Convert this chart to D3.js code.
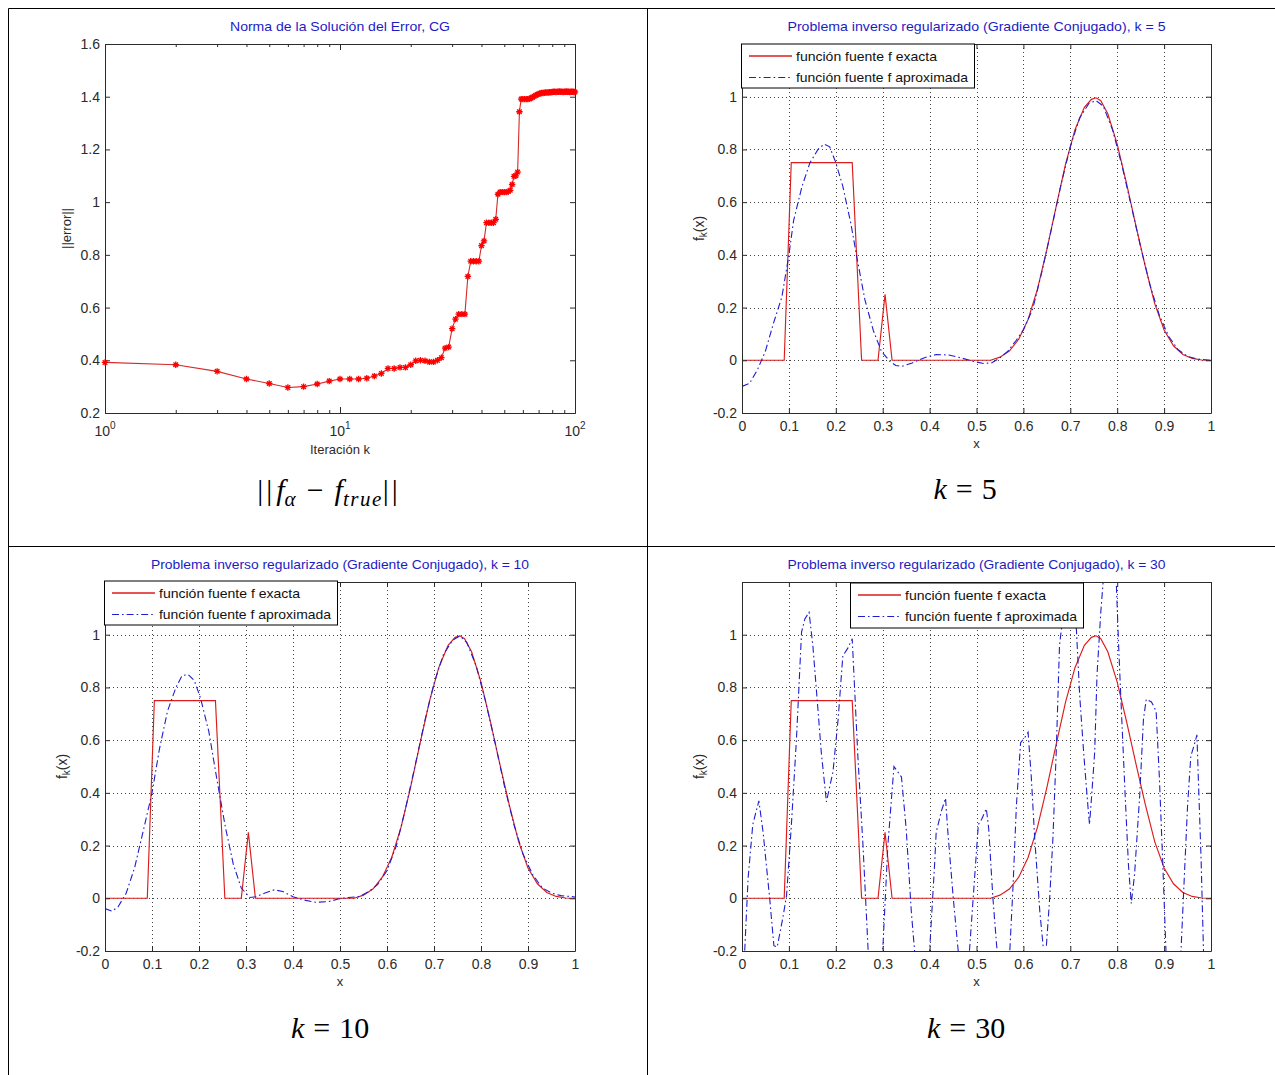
<!DOCTYPE html>
<html><head><meta charset="utf-8">
<script src="https://cdn.jsdelivr.net/npm/d3@7"></script>
<style>
body{margin:0;background:#fff;}
svg{display:block;}
</style></head><body>
<svg id="fig" width="1275" height="1075"></svg>
<script>
// ---------------- DATA ----------------
// Panel 1: error norm per CG iteration k = 1..100
const errorNorm = [
 0.392,0.383,0.358,0.329,0.312,0.297,0.300,0.310,0.321,0.329,
 0.329,0.329,0.332,0.340,0.350,0.369,0.369,0.373,0.373,0.383,
 0.398,0.400,0.398,0.394,0.394,0.400,0.410,0.446,0.450,0.520,
 0.556,0.575,0.575,0.575,0.718,0.776,0.776,0.776,0.776,0.835,
 0.853,0.922,0.922,0.922,0.922,0.935,1.030,1.038,1.038,1.038,
 1.038,1.040,1.045,1.067,1.098,1.100,1.114,1.343,1.391,1.391,
 1.391,1.391,1.391,1.392,1.395,1.398,1.402,1.405,1.408,1.410,
 1.413,1.414,1.414,1.415,1.416,1.416,1.416,1.417,1.417,1.418,
 1.419,1.419,1.418,1.419,1.419,1.420,1.419,1.419,1.418,1.419,
 1.419,1.420,1.419,1.419,1.418,1.419,1.419,1.419,1.418,1.418];
const errTicksY = [0.2,0.4,0.6,0.8,1,1.2,1.4,1.6];
const errTicksX = [1,10,100];
const errTickExp = ["0","1","2"];

// Function panels
const fTicksX = [0,0.1,0.2,0.3,0.4,0.5,0.6,0.7,0.8,0.9,1];
const fTicksY = [-0.2,0,0.2,0.4,0.6,0.8,1];

const exactX = [0,0.09,0.105,0.235,0.255,0.29,0.305,0.32,0.53,
 0.55,0.57,0.59,0.61,0.63,0.65,0.67,0.69,0.71,0.73,0.745,0.755,0.765,0.78,0.80,0.82,0.84,0.86,0.88,0.90,0.92,0.94,0.96,0.98,1.0];
const exactY = [0,0,0.75,0.75,0,0,0.25,0,0,
 0.012,0.035,0.08,0.155,0.27,0.42,0.585,0.745,0.875,0.96,0.99,0.996,0.985,0.935,0.82,0.67,0.51,0.355,0.215,0.115,0.055,0.022,0.007,0.001,0];

const approxK5X = [0,0.016,0.033,0.05,0.067,0.085,0.1,0.11,0.128,0.145,
 0.162,0.175,0.187,0.2,0.215,0.232,0.245,0.262,0.28,0.297,
 0.315,0.328,0.341,0.363,0.389,0.415,0.441,0.467,0.493,0.515,
 0.532,0.55,0.567,0.584,0.6,0.62,0.64,0.66,0.68,0.70,0.72,0.74,0.755,0.77,0.79,0.81,0.83,0.85,0.87,0.89,0.91,0.93,0.95,0.97,1.0];
const approxK5Y = [-0.099,-0.088,-0.036,0.035,0.14,0.24,0.4,0.53,0.66,0.75,
 0.80,0.82,0.81,0.75,0.66,0.52,0.39,0.23,0.113,0.035,
 -0.004,-0.02,-0.023,-0.01,0.01,0.022,0.02,0.009,-0.004,-0.012,
 -0.01,0.009,0.035,0.074,0.115,0.195,0.34,0.5,0.665,0.81,0.92,0.975,0.985,0.965,0.875,0.74,0.585,0.43,0.285,0.17,0.09,0.04,0.015,0.005,0.0];

const approxK10X = [0,0.015,0.028,0.045,0.063,0.08,0.1,0.116,0.133,0.151,
 0.164,0.177,0.19,0.203,0.221,0.238,0.256,0.273,0.29,0.308,
 0.321,0.339,0.36,0.378,0.4,0.422,0.448,0.475,0.496,0.518,
 0.54,0.562,0.58,0.6,0.62,0.64,0.66,0.68,0.70,0.72,
 0.74,0.755,0.77,0.79,0.81,0.83,0.85,0.87,0.89,0.91,0.93,0.95,0.97,1.0];
const approxK10Y = [-0.039,-0.049,-0.032,0.019,0.116,0.245,0.4,0.568,0.71,0.8,
 0.845,0.849,0.826,0.761,0.632,0.452,0.271,0.129,0.039,0.003,
 0.006,0.019,0.032,0.026,0.006,-0.006,-0.015,-0.013,-0.003,0.003,
 0.006,0.026,0.052,0.105,0.2,0.345,0.505,0.67,0.815,0.925,
 0.98,0.995,0.97,0.88,0.745,0.59,0.425,0.28,0.165,0.09,0.04,0.02,0.01,0.005];

const approxK30X = [0.0,0.013,0.023,0.036,0.045,0.059,0.068,0.075,0.087,0.095,
 0.105,0.116,0.127,0.134,0.143,0.151,0.16,0.169,0.18,0.194,
 0.205,0.215,0.226,0.235,0.24,0.247,0.258,0.269,0.284,0.3,
 0.311,0.324,0.34,0.35,0.361,0.368,0.384,0.4,0.411,0.414,
 0.425,0.434,0.439,0.45,0.461,0.473,0.485,0.5,0.504,0.511,
 0.521,0.526,0.535,0.543,0.557,0.571,0.578,0.585,0.594,0.603,
 0.61,0.617,0.624,0.635,0.642,0.649,0.656,0.663,0.67,0.677,
 0.682,0.697,0.713,0.72,0.729,0.738,0.741,0.746,0.752,0.757,
 0.765,0.77,0.784,0.798,0.803,0.809,0.817,0.824,0.83,0.837,
 0.848,0.856,0.862,0.873,0.883,0.89,0.897,0.904,0.92,0.936,
 0.943,0.95,0.957,0.964,0.97,0.973,0.979,0.984,1.0];
const approxK30Y = [-0.42,0.076,0.28,0.37,0.25,0.0,-0.18,-0.185,-0.075,0.01,
 0.27,0.6,1.01,1.06,1.085,0.96,0.76,0.555,0.366,0.48,
 0.68,0.92,0.95,0.985,0.8,0.54,0.2,-0.2,-0.42,-0.2,
 0.2,0.5,0.46,0.265,-0.05,-0.2,-0.4,-0.2,0.14,0.25,
 0.33,0.38,0.25,0.01,-0.2,-0.38,-0.2,0.18,0.28,0.30,
 0.34,0.265,0.0,-0.18,-0.4,-0.2,0.05,0.35,0.59,0.61,
 0.63,0.455,0.23,-0.05,-0.18,-0.18,0.0,0.23,0.555,0.96,
 1.035,1.14,1.02,0.77,0.54,0.34,0.28,0.40,0.555,0.85,
 1.085,1.2,1.38,1.2,0.96,0.71,0.39,0.126,-0.02,0.09,
 0.39,0.68,0.755,0.745,0.71,0.455,0.14,-0.2,-0.45,-0.2,
 0.076,0.35,0.54,0.58,0.62,0.455,0.14,-0.2,-0.5];

const legendLabels = ["función fuente f exacta", "función fuente f aproximada"];
const errTitle = "Norma de la Solución del Error, CG";
const fTitles = ["Problema inverso regularizado (Gradiente Conjugado), k = 5",
                 "Problema inverso regularizado (Gradiente Conjugado), k = 10",
                 "Problema inverso regularizado (Gradiente Conjugado), k = 30"];
const captionKs = ["5","10","30"];

// ---------------- STYLE ----------------
const SANS = '"Liberation Sans", Arial, Helvetica, sans-serif';
const SERIF = '"Liberation Serif", "Times New Roman", serif';
const AXC = '#2b2b2b';
const TITLEC = '#1c1cc4';
const RED = '#dc1c1c';
const BLUE = '#1e1ecf';
const DASHDOT = '7,3,1.6,3';

const svg = d3.select('#fig');
svg.append('rect').attr('width',1275).attr('height',1075).attr('fill','#fff');

// table borders
const tb = svg.append('g').attr('stroke','#000').attr('stroke-width',1);
tb.append('line').attr('x1',8.5).attr('y1',8.5).attr('x2',1275).attr('y2',8.5);
tb.append('line').attr('x1',8.5).attr('y1',8.5).attr('x2',8.5).attr('y2',1075);
tb.append('line').attr('x1',647.5).attr('y1',8.5).attr('x2',647.5).attr('y2',1075);
tb.append('line').attr('x1',8.5).attr('y1',546.5).attr('x2',1275).attr('y2',546.5);

function styleAxis(sel){
  sel.select('.domain').attr('stroke',AXC).attr('stroke-width',1);
  sel.selectAll('.tick line').attr('stroke',AXC).attr('stroke-width',1);
  sel.selectAll('.tick text').attr('fill',AXC).attr('font-size',14).attr('font-family',SANS);
}

// ---------------- PANEL 1: error norm ----------------
(function(){
  const p = {x0:105, x1:575, y0:44, y1:413};
  const g = svg.append('g');
  const x = d3.scaleLog().domain([1,100]).range([p.x0,p.x1]);
  const y = d3.scaleLinear().domain([0.2,1.6]).range([p.y1,p.y0]);

  g.append('text').attr('x',(p.x0+p.x1)/2).attr('y',31).attr('text-anchor','middle')
    .attr('font-family',SANS).attr('font-size',13).attr('fill',TITLEC)
    .attr('textLength',220).attr('lengthAdjust','spacingAndGlyphs').text(errTitle);

  const minor = x.ticks().filter(d => errTicksX.indexOf(d) < 0);
  g.append('g').attr('transform',`translate(0,${p.y1})`)
    .call(d3.axisBottom(x).tickValues(minor).tickSizeInner(-3).tickSizeOuter(0).tickFormat(''))
    .call(styleAxis);
  g.append('g').attr('transform',`translate(0,${p.y1})`)
    .call(d3.axisBottom(x).tickValues(errTicksX).tickSizeInner(-6).tickSizeOuter(0).tickFormat(''))
    .call(styleAxis);
  g.append('g').attr('transform',`translate(0,${p.y0})`)
    .call(d3.axisTop(x).tickValues(minor).tickSizeInner(-3).tickSizeOuter(0).tickFormat(''))
    .call(styleAxis);
  g.append('g').attr('transform',`translate(0,${p.y0})`)
    .call(d3.axisTop(x).tickValues(errTicksX).tickSizeInner(-6).tickSizeOuter(0).tickFormat(''))
    .call(styleAxis);
  g.append('g').attr('transform',`translate(${p.x0},0)`)
    .call(d3.axisLeft(y).tickValues(errTicksY).tickSizeInner(-5).tickSizeOuter(0).tickPadding(5).tickFormat(d=>String(d)))
    .call(styleAxis);
  g.append('g').attr('transform',`translate(${p.x1},0)`)
    .call(d3.axisRight(y).tickValues(errTicksY).tickSizeInner(-5).tickSizeOuter(0).tickFormat(''))
    .call(styleAxis);

  errTicksX.forEach((d,i)=>{
    const t = g.append('text').attr('x',x(d)).attr('y',436).attr('text-anchor','middle')
      .attr('font-family',SANS).attr('font-size',14).attr('fill',AXC);
    t.append('tspan').text('10');
    t.append('tspan').attr('dy',-7).attr('font-size',10).text(errTickExp[i]);
  });

  g.append('text').attr('x',p.x0+ (p.x1-p.x0)/2).attr('y',454).attr('text-anchor','middle')
    .attr('font-family',SANS).attr('font-size',13).attr('fill',AXC).text('Iteración k');
  g.append('text').attr('transform',`translate(71,${(p.y0+p.y1)/2}) rotate(-90)`).attr('text-anchor','middle')
    .attr('font-family',SANS).attr('font-size',13).attr('fill',AXC).text('||error||');

  const line = d3.line().x((d,i)=>x(i+1)).y(d=>y(d));
  g.append('path').datum(errorNorm).attr('d',line).attr('fill','none')
    .attr('stroke','#d42a2a').attr('stroke-width',1.1);
  const r = 3.2, a = 2.3;
  const star = `M${-r},0L${r},0M0,${-r}L0,${r}M${-a},${-a}L${a},${a}M${-a},${a}L${a},${-a}`;
  g.append('g').selectAll('path').data(errorNorm).join('path')
    .attr('transform',(d,i)=>`translate(${x(i+1)},${y(d)})`)
    .attr('d',star).attr('stroke','#ff0000').attr('stroke-width',1.3).attr('fill','none');

  // caption ||f_alpha - f_true||
  const c = g.append('text').attr('x',329).attr('y',500).attr('text-anchor','middle')
    .attr('font-family',SERIF).attr('font-size',30).attr('fill','#000');
  c.append('tspan').attr('letter-spacing',3).text('||');
  c.append('tspan').attr('font-style','italic').attr('dx',1).text('f');
  c.append('tspan').attr('font-style','italic').attr('font-size',21).attr('dy',6).text('α');
  c.append('tspan').attr('dy',-6).attr('dx',11).text('−');
  c.append('tspan').attr('font-style','italic').attr('dx',11).text('f');
  c.append('tspan').attr('font-style','italic').attr('font-size',21).attr('letter-spacing',1.5).attr('dy',6).text('true');
  c.append('tspan').attr('dy',-6).attr('letter-spacing',3).text('||');
})();

// ---------------- FUNCTION PANELS ----------------
function fPanel(p, ax, ay, title, leg, capX, capY, capK){
  const g = svg.append('g');
  const x = d3.scaleLinear().domain([0,1]).range([p.x0,p.x1]);
  const y = d3.scaleLinear().domain([-0.2,1.2]).range([p.y1,p.y0]);
  const id = 'clip' + capK;
  svg.append('clipPath').attr('id',id).append('rect')
    .attr('x',p.x0).attr('y',p.y0).attr('width',p.x1-p.x0).attr('height',p.y1-p.y0);

  g.append('text').attr('x',(p.x0+p.x1)/2).attr('y',p.y0-13).attr('text-anchor','middle')
    .attr('font-family',SANS).attr('font-size',13).attr('fill',TITLEC)
    .attr('textLength',378).attr('lengthAdjust','spacingAndGlyphs').text(title);

  const grid = g.append('g').attr('stroke','#444').attr('stroke-width',1).attr('stroke-dasharray','1,3');
  grid.selectAll('.gx').data(fTicksX).join('line').attr('class','gx')
    .attr('x1',d=>Math.round(x(d))+0.5).attr('x2',d=>Math.round(x(d))+0.5).attr('y1',p.y0).attr('y2',p.y1);
  grid.selectAll('.gy').data(fTicksY).join('line').attr('class','gy')
    .attr('y1',d=>Math.round(y(d))+0.5).attr('y2',d=>Math.round(y(d))+0.5).attr('x1',p.x0).attr('x2',p.x1);

  const cg = g.append('g').attr('clip-path',`url(#${id})`);
  const line = d3.line().x(d=>x(d[0])).y(d=>y(d[1]));
  cg.append('path').datum(exactX.map((v,i)=>[v,exactY[i]])).attr('d',line)
    .attr('fill','none').attr('stroke',RED).attr('stroke-width',1.15);
  cg.append('path').datum(ax.map((v,i)=>[v,ay[i]])).attr('d',line)
    .attr('fill','none').attr('stroke',BLUE).attr('stroke-width',1.1).attr('stroke-dasharray',DASHDOT);

  g.append('g').attr('transform',`translate(0,${p.y1})`)
    .call(d3.axisBottom(x).tickValues(fTicksX).tickSizeInner(-5).tickSizeOuter(0).tickPadding(8).tickFormat(d=>String(d)))
    .call(styleAxis);
  g.append('g').attr('transform',`translate(0,${p.y0})`)
    .call(d3.axisTop(x).tickValues(fTicksX).tickSizeInner(-5).tickSizeOuter(0).tickFormat(''))
    .call(styleAxis);
  g.append('g').attr('transform',`translate(${p.x0},0)`)
    .call(d3.axisLeft(y).tickValues(fTicksY).tickSizeInner(-5).tickSizeOuter(0).tickPadding(5).tickFormat(d=>String(d)))
    .call(styleAxis);
  g.append('g').attr('transform',`translate(${p.x1},0)`)
    .call(d3.axisRight(y).tickValues(fTicksY).tickSizeInner(-5).tickSizeOuter(0).tickFormat(''))
    .call(styleAxis);

  g.append('text').attr('x',(p.x0+p.x1)/2).attr('y',p.y1+35).attr('text-anchor','middle')
    .attr('font-family',SANS).attr('font-size',13).attr('fill',AXC).text('x');
  const yl = g.append('text').attr('transform',`translate(${p.x0-38},${(p.y0+p.y1)/2}) rotate(-90)`)
    .attr('text-anchor','middle').attr('font-family',SANS).attr('font-size',14).attr('fill',AXC);
  yl.append('tspan').text('f');
  yl.append('tspan').attr('dy',3).attr('font-size',10).text('k');
  yl.append('tspan').attr('dy',-3).text('(x)');

  const lg = g.append('g').attr('transform',`translate(${leg.x},${leg.y})`);
  lg.append('rect').attr('x',0.5).attr('y',0.5).attr('width',leg.w).attr('height',leg.h)
    .attr('fill','#fff').attr('stroke','#000').attr('stroke-width',1);
  const rows = [12.5, 34];
  lg.append('line').attr('x1',8).attr('x2',51).attr('y1',rows[0]).attr('y2',rows[0])
    .attr('stroke',RED).attr('stroke-width',1.4);
  lg.append('line').attr('x1',8).attr('x2',51).attr('y1',rows[1]).attr('y2',rows[1])
    .attr('stroke',BLUE).attr('stroke-width',1.1).attr('stroke-dasharray',DASHDOT);
  const lens = [141,172];
  legendLabels.forEach((t,i)=>{
    lg.append('text').attr('x',55).attr('y',rows[i]+4.8).attr('font-family',SANS)
      .attr('font-size',13).attr('fill','#111')
      .attr('textLength',lens[i]).attr('lengthAdjust','spacingAndGlyphs').text(t);
  });

  const c = g.append('text').attr('x',capX).attr('y',capY).attr('text-anchor','middle')
    .attr('font-family',SERIF).attr('font-size',30).attr('fill','#000');
  c.append('tspan').attr('font-style','italic').text('k');
  c.append('tspan').attr('dx',9).text('=');
  c.append('tspan').attr('dx',9).text(capK);
}

fPanel({x0:742,x1:1211,y0:44,y1:413}, approxK5X, approxK5Y, fTitles[0],
       {x:741,y:43.5,w:233,h:44}, 965, 499, captionKs[0]);
fPanel({x0:105,x1:575,y0:582,y1:951}, approxK10X, approxK10Y, fTitles[1],
       {x:104,y:580.5,w:233,h:44}, 330, 1038, captionKs[1]);
fPanel({x0:742,x1:1211,y0:582,y1:951}, approxK30X, approxK30Y, fTitles[2],
       {x:850,y:582.5,w:233,h:45}, 966, 1038, captionKs[2]);
</script>
</body></html>
